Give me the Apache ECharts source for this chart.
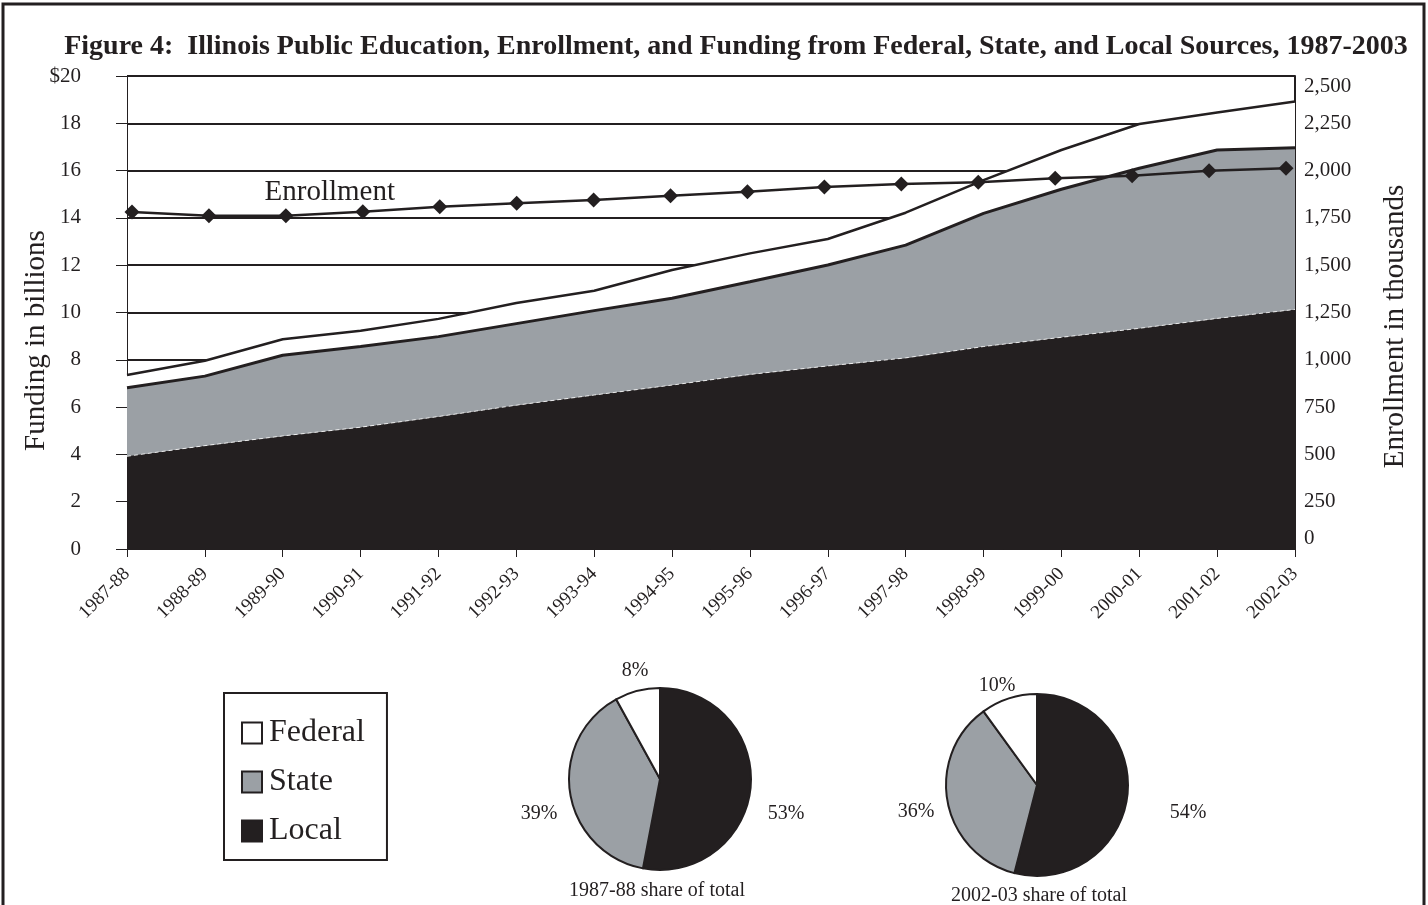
<!DOCTYPE html>
<html>
<head>
<meta charset="utf-8">
<script src="https://cdn.jsdelivr.net/npm/echarts@6/dist/echarts.min.js"></script>
<style>
html,body{margin:0;padding:0;background:#fff;}
#chart{width:1428px;height:905px;}
</style>
</head>
<body>
<div id="chart"></div>
<script>
// ---- data ----
const years = ['1987-88','1988-89','1989-90','1990-91','1991-92','1992-93','1993-94','1994-95','1995-96','1996-97','1997-98','1998-99','1999-00','2000-01','2001-02','2002-03'];
// funding in billions of dollars (component amounts, stacked in the chart)
const localFunding   = [3.92, 4.37, 4.78, 5.15, 5.60, 6.08, 6.51, 6.93, 7.38, 7.74, 8.08, 8.56, 8.95, 9.33, 9.75, 10.13];
const stateFunding   = [2.90, 2.94, 3.41, 3.41, 3.38, 3.45, 3.57, 3.67, 3.92, 4.27, 4.77, 5.63, 6.26, 6.77, 7.12, 6.84];
const federalFunding = [0.54, 0.65, 0.68, 0.67, 0.75, 0.87, 0.84, 1.20, 1.20, 1.10, 1.37, 1.41, 1.66, 1.87, 1.59, 1.95];
// enrollment in thousands
const enrollment = [1781, 1762, 1762, 1783, 1809, 1827, 1844, 1867, 1888, 1913, 1929, 1938, 1959, 1973, 1999, 2012];
// pie shares (percent): Local, State, Federal
const sourceNames = ['Local', 'State', 'Federal'];
const share1987 = [53, 39, 8];
const share2002 = [54, 36, 10];
const fundingTicks = {min: 0, max: 20, interval: 2};
const enrollTicks = {min: 0, max: 2500, interval: 250};

// ---- style ----
const INK = '#231f20';
const GREY = '#9ba0a5';
const FONT = "'Liberation Serif', 'Times New Roman', serif";
const pieColors = [INK, GREY, '#ffffff'];
const pie1LabelPos = [[786, 814], [539, 814], [635, 671]];
const pie2LabelPos = [[1188, 813], [916, 812], [997, 686]];

const chart = echarts.init(document.getElementById('chart'), null, {renderer: 'canvas'});

function pieSeries(shares, center, labelPos) {
  return {
    type: 'pie',
    radius: 91,
    center: center,
    startAngle: 90,
    clockwise: true,
    silent: true,
    label: {show: true, formatter: '{c}%', fontFamily: FONT, fontSize: 20, color: INK},
    labelLine: {show: false},
    labelLayout: function (p) {
      const pos = labelPos[p.dataIndex];
      return {x: pos[0], y: pos[1], align: 'center', verticalAlign: 'middle'};
    },
    itemStyle: {borderColor: INK, borderWidth: 2},
    data: sourceNames.map((n, i) => ({name: n, value: shares[i], itemStyle: {color: pieColors[i]}}))
  };
}

const option = {
  animation: false,
  backgroundColor: '#fff',
  textStyle: {fontFamily: FONT, color: INK},
  title: [
    {text: 'Figure 4:  Illinois Public Education, Enrollment, and Funding from Federal, State, and Local Sources, 1987-2003',
     left: 731, top: 28, textAlign: 'center',
     textStyle: {fontFamily: FONT, fontWeight: 'bold', fontSize: 28, color: INK}},
    {text: '1987-88 share of total', left: 652, top: 876, textAlign: 'center',
     textStyle: {fontFamily: FONT, fontWeight: 'normal', fontSize: 20, color: INK}},
    {text: '2002-03 share of total', left: 1034, top: 881, textAlign: 'center',
     textStyle: {fontFamily: FONT, fontWeight: 'normal', fontSize: 20, color: INK}}
  ],
  legend: {
    orient: 'vertical',
    left: 224, top: 693,
    padding: [24, 22, 13, 17],
    itemGap: 17,
    itemWidth: 20, itemHeight: 21,
    icon: 'rect',
    borderColor: INK, borderWidth: 2,
    textStyle: {fontFamily: FONT, fontSize: 32, color: INK, padding: [0, 0, 0, 2]},
    selectedMode: false,
    data: [
      {name: 'Federal', itemStyle: {color: '#ffffff', borderColor: INK, borderWidth: 2}},
      {name: 'State', itemStyle: {color: GREY, borderColor: INK, borderWidth: 2}},
      {name: 'Local', itemStyle: {color: INK, borderColor: INK, borderWidth: 2}}
    ]
  },
  graphic: [
    {type: 'rect', shape: {x: 3, y: 4, width: 1421, height: 920}, style: {fill: 'none', stroke: INK, lineWidth: 3}, silent: true}
  ],
  grid: [
    {left: 127, right: 133, top: 76, bottom: 356, containLabel: false},
    {left: 132, right: 142, top: 76, bottom: 356, containLabel: false}
  ],
  xAxis: [
    {type: 'category', gridIndex: 0, data: years, boundaryGap: false,
     axisLine: {show: true, lineStyle: {color: INK, width: 1}},
     axisTick: {show: true, length: 8, lineStyle: {color: INK}},
     axisLabel: {interval: 0, rotate: 45, margin: 22, fontFamily: FONT, fontSize: 19, color: INK},
     splitLine: {show: false}},
    {type: 'category', gridIndex: 1, data: years, boundaryGap: false, show: false}
  ],
  yAxis: [
    {type: 'value', gridIndex: 0, position: 'left', min: fundingTicks.min, max: fundingTicks.max, interval: fundingTicks.interval,
     name: 'Funding in billions', nameLocation: 'middle', nameGap: 76, nameRotate: 90, nameMoveOverlap: false,
     nameTextStyle: {fontFamily: FONT, fontSize: 29, color: INK, padding: [0, 56, 0, 0]},
     axisLine: {show: true, lineStyle: {color: INK, width: 1}},
     axisTick: {show: true, length: 11, lineStyle: {color: INK}},
     axisLabel: {margin: 46, fontFamily: FONT, fontSize: 21, color: INK,
       formatter: v => (v === fundingTicks.max ? '$' + v : String(v))},
     splitLine: {show: true, lineStyle: {color: INK, width: 2}}},
    {type: 'value', gridIndex: 0, position: 'right', min: enrollTicks.min, max: enrollTicks.max, interval: enrollTicks.interval,
     name: 'Enrollment in thousands', nameLocation: 'middle', nameGap: 86, nameRotate: 90,
     nameTextStyle: {fontFamily: FONT, fontSize: 29, color: INK, padding: [0, 28, 0, 0]},
     axisLine: {show: true, lineStyle: {color: INK, width: 2}},
     axisTick: {show: false},
     axisLabel: {margin: 9, fontFamily: FONT, fontSize: 21, color: INK,
       verticalAlignMaxLabel: 'top', verticalAlignMinLabel: 'bottom',
       formatter: v => v.toLocaleString('en-US')},
     splitLine: {show: false}},
    {type: 'value', gridIndex: 1, min: enrollTicks.min, max: enrollTicks.max, show: false, splitLine: {show: false}}
  ],
  series: [
    {name: 'Local', type: 'line', xAxisIndex: 0, yAxisIndex: 0, stack: 'funding', symbol: 'none', silent: true,
     lineStyle: {color: '#ffffff', width: 1, type: [4, 3], opacity: 0.8},
     itemStyle: {color: INK},
     areaStyle: {color: INK, opacity: 1},
     data: localFunding, z: 2},
    {name: 'State', type: 'line', xAxisIndex: 0, yAxisIndex: 0, stack: 'funding', symbol: 'none', silent: true,
     lineStyle: {color: INK, width: 3},
     itemStyle: {color: GREY},
     areaStyle: {color: GREY, opacity: 1},
     data: stateFunding, z: 2},
    {name: 'Federal', type: 'line', xAxisIndex: 0, yAxisIndex: 0, stack: 'funding', symbol: 'none', silent: true,
     lineStyle: {color: INK, width: 2.5},
     itemStyle: {color: '#ffffff'},
     areaStyle: {color: '#ffffff', opacity: 1},
     data: federalFunding, z: 2},
    {name: 'Enrollment', type: 'line', xAxisIndex: 1, yAxisIndex: 2, symbol: 'diamond', symbolSize: 15, silent: true,
     lineStyle: {color: INK, width: 2.5},
     itemStyle: {color: INK},
     data: enrollment.map((v, i) => i === 3 ? {value: v, label: {show: true, formatter: 'Enrollment', position: 'top', offset: [-33, 8], fontFamily: FONT, fontSize: 29, color: INK}} : v),
     z: 5},
    pieSeries(share1987, [660, 779], pie1LabelPos),
    pieSeries(share2002, [1037, 785], pie2LabelPos)
  ]
};
chart.setOption(option);
</script>
</body>
</html>
